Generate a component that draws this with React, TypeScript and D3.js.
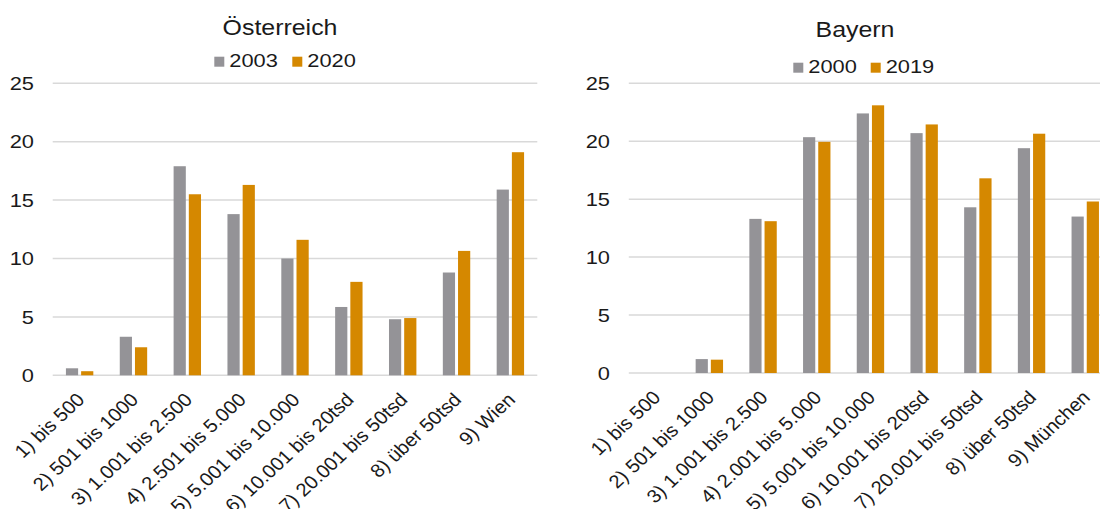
import React from "react";
import * as d3 from "d3";

const catsAT = [
  "1) bis 500",
  "2) 501 bis 1000",
  "3) 1.001 bis 2.500",
  "4) 2.501 bis 5.000",
  "5) 5.001 bis 10.000",
  "6) 10.001 bis 20tsd",
  "7) 20.001 bis 50tsd",
  "8) über 50tsd",
  "9) Wien",
];
const at2003 = [0.6, 3.3, 17.9, 13.8, 10.0, 5.85, 4.8, 8.8, 15.9];
const at2020 = [0.35, 2.4, 15.5, 16.3, 11.6, 8.0, 4.9, 10.65, 19.1];

const catsBY = [
  "1) bis 500",
  "2) 501 bis 1000",
  "3) 1.001 bis 2.500",
  "4) 2.001 bis 5.000",
  "5) 5.001 bis 10.000",
  "6) 10.001 bis 20tsd",
  "7) 20.001 bis 50tsd",
  "8) über 50tsd",
  "9) München",
];
const by2000 = [0, 1.2, 13.3, 20.35, 22.4, 20.7, 14.3, 19.4, 13.5];
const by2019 = [0, 1.15, 13.1, 19.95, 23.1, 21.45, 16.8, 20.65, 14.8];

const yTicks = [0, 5, 10, 15, 20, 25];

const GRAY = "#949397";
const ORANGE = "#D58800";
const GRID = "#d9d9d9";
const TEXT = "#1a1a1a";
const FONT = "'Liberation Sans', Arial, sans-serif";
const SX = 1.17;
const LSX = 1.08;

type PanelProps = {
  title: string;
  titleX: number;
  titleY: number;
  cats: string[];
  a: number[];
  b: number[];
  la: string;
  lb: string;
  legendY: number;
  legendX: [number, number];
  x0: number;
  x1: number;
  y0: number;
  y25: number;
  tickRight: number;
  gridEnd: number;
};

function Panel(p: PanelProps) {
  const x = d3.scaleBand<string>().domain(p.cats).range([p.x0, p.x1]).padding(0);
  const y = d3.scaleLinear().domain([0, 25]).range([p.y0, p.y25]);
  const bw = 12.2;
  const gap = 3;
  const labelOffset = 21;
  return (
    <g>
      <text
        transform={`translate(${p.titleX},${p.titleY}) scale(${SX},1)`}
        textAnchor="middle"
        fontSize={21.3}
        fill={TEXT}
        fontFamily={FONT}
      >
        {p.title}
      </text>
      {[
        { label: p.la, color: GRAY, lx: p.legendX[0] },
        { label: p.lb, color: ORANGE, lx: p.legendX[1] },
      ].map((l) => (
        <g key={l.label}>
          <rect x={l.lx} y={p.legendY - 10} width={10} height={10} fill={l.color} />
          <text
            transform={`translate(${l.lx + 15},${p.legendY}) scale(${SX},1)`}
            fontSize={18.67}
            fill={TEXT}
            fontFamily={FONT}
          >
            {l.label}
          </text>
        </g>
      ))}
      {yTicks.map((t) => (
        <g key={t}>
          <line x1={p.x0} x2={p.gridEnd} y1={y(t)} y2={y(t)} stroke={GRID} strokeWidth={1.5} />
          <text
            transform={`translate(${p.tickRight},${y(t) + 6.7}) scale(${SX},1)`}
            textAnchor="end"
            fontSize={18.67}
            fill={TEXT}
            fontFamily={FONT}
          >
            {t}
          </text>
        </g>
      ))}
      {p.cats.map((c, i) => {
        const cx = (x(c) as number) + x.bandwidth() / 2;
        return (
          <g key={c}>
            <rect
              x={cx - gap / 2 - bw}
              y={y(p.a[i])}
              width={bw}
              height={p.y0 - y(p.a[i])}
              fill={GRAY}
            />
            <rect
              x={cx + gap / 2}
              y={y(p.b[i])}
              width={bw}
              height={p.y0 - y(p.b[i])}
              fill={ORANGE}
            />
            <text
              transform={`translate(${cx + 1},${p.y0 + labelOffset}) scale(${LSX},1) rotate(-45)`}
              textAnchor="end"
              dy="0.35em"
              fontSize={18.67}
              fill={TEXT}
              fontFamily={FONT}
            >
              {c}
            </text>
          </g>
        );
      })}
    </g>
  );
}

export default function App() {
  return (
    <svg
      width={1100}
      height={509}
      style={{ position: "absolute", left: 0, top: 0, background: "#fff" }}
    >
      <rect x={0} y={0} width={1100} height={509} fill="#fff" />
      <Panel
        title="Österreich"
        titleX={280}
        titleY={35}
        cats={catsAT}
        a={at2003}
        b={at2020}
        la="2003"
        lb="2020"
        legendY={66.7}
        legendX={[214.3, 292.3]}
        x0={52.7}
        x1={537.3}
        y0={375.3}
        y25={83.3}
        tickRight={34}
        gridEnd={537.3}
      />
      <Panel
        title="Bayern"
        titleX={855}
        titleY={37}
        cats={catsBY}
        a={by2000}
        b={by2019}
        la="2000"
        lb="2019"
        legendY={72.7}
        legendX={[793.3, 870.7]}
        x0={628.8}
        x1={1112.1}
        y0={373}
        y25={83.3}
        tickRight={610}
        gridEnd={1112}
      />
    </svg>
  );
}
